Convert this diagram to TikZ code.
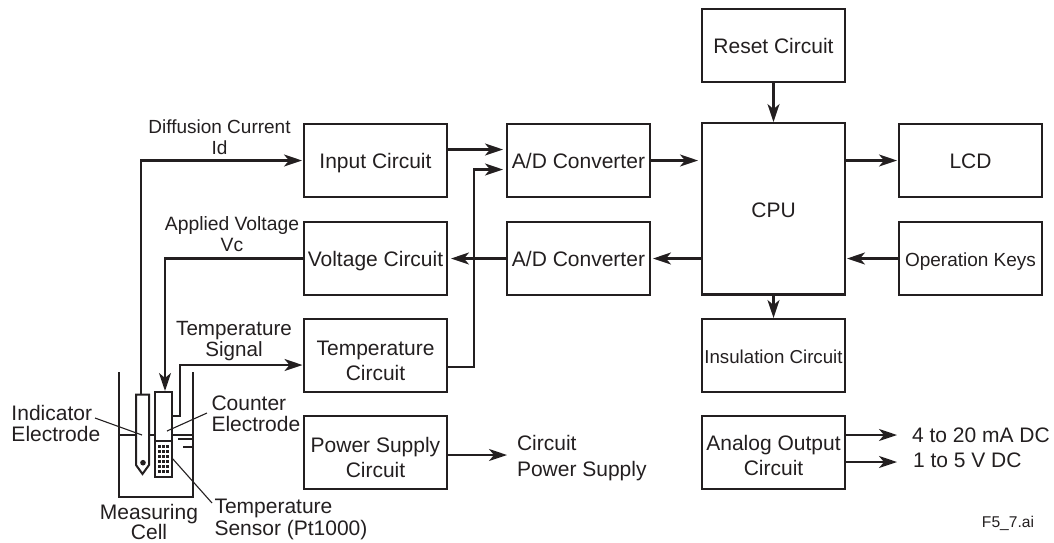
\documentclass[tikz,border=0pt]{standalone}
\usepackage{fontspec}
\setmainfont{Liberation Sans}
\usetikzlibrary{arrows.meta}
\definecolor{ink}{HTML}{231F20}
\newcommand{\fs}[1]{\fontsize{#1}{#1}\selectfont}
\newcommand{\tallA}{\rule{0pt}{26pt}}
\newcommand{\tallB}{\rule{0pt}{22pt}}
\tikzset{
  x=1pt,y=-1pt,
  every node/.style={text=ink,inner sep=0pt,outer sep=0pt,align=center},
  box/.style={draw=ink,line width=2.6pt,minimum width=143pt,minimum height=73pt,font=\fs{21}},
  oneline/.style={text height=16.5pt,text depth=0pt},
  wire/.style={draw=ink,line width=2.2pt},
  arrowwire/.style={wire,-{Stealth[length=18pt,width=12pt,inset=5pt]},shorten >=#1},
  arrowwire/.default=4pt,
  leader/.style={draw=ink,line width=1.1pt},
  cellline/.style={draw=ink,line width=2pt},
  lab/.style={font=\fs{21}},
}
\begin{document}
\begin{tikzpicture}
\useasboundingbox (0,0) rectangle (1054,542);
% boxes
\node[box,oneline] (input) at (375.5,160.5) {Input Circuit};
\node[box,oneline] (volt) at (375.5,258.5) {Voltage Circuit};
\node[box] (temp) at (375.5,355.5) {\tallA Temperature\\[4pt]Circuit};
\node[box] (power) at (375.5,452.5) {\tallA Power Supply\\[4pt]Circuit};
\node[box,oneline] (ad1) at (578.5,160.5) {A/D Converter};
\node[box,oneline] (ad2) at (578.5,258.5) {A/D Converter};
\node[box,oneline,minimum height=171.5pt] (cpu) at (773.5,208.8) {CPU};
\node[box,oneline] (reset) at (773.5,45.5) {Reset Circuit};
\node[box,oneline,font=\fs{18.7}] (ins) at (773.5,355.5) {Insulation Circuit};
\node[box] (analog) at (773.5,452.5) {\tallB Analog Output\\[4pt]Circuit};
\node[box,oneline] (lcd) at (970.5,160.5) {LCD};
\node[box,oneline,font=\fs{19}] (keys) at (970.5,258.5) {Operation Keys};
% named ends
\coordinate (in1) at (507,149.5);
\coordinate (in2) at (507,169.5);
\coordinate (inE) at (447,149.5);
\coordinate (tempE) at (447,366.7);
\coordinate (idtop) at (141,394);
\coordinate (vctop) at (165,392);
\coordinate (tempW) at (304,365);
\coordinate (sens) at (172,416);
\coordinate (psa) at (447,455);
\coordinate (psb) at (509,455);
\coordinate (ao1a) at (845,435);
\coordinate (ao1b) at (899,435);
\coordinate (ao2a) at (845,462);
\coordinate (ao2b) at (899,462);
% connectors
\draw[arrowwire=2pt] (idtop) |- (input.west);
\draw[arrowwire=1pt] (volt.west) -| (vctop);
\draw[arrowwire=1.5pt] (sens) -- (180,416) -- (180,365) -- (tempW);
\draw[arrowwire] (inE) -- (in1);
\draw[arrowwire] (tempE) -- (474,366.7) -- (474,169.5) -- (in2);
\draw[arrowwire] (ad2.west) -- (volt.east);
\draw[arrowwire] (ad1.east) -- (ad1.east -| cpu.west);
\draw[arrowwire=3pt] (cpu.west |- ad2.east) -- (ad2.east);
\draw[arrowwire=1pt] (reset.south) -- (cpu.north);
\draw[arrowwire=1pt] (cpu.south) -- (ins.north);
\draw[arrowwire=2pt] (cpu.east |- lcd.west) -- (lcd.west);
\draw[arrowwire=2pt] (keys.west) -- (keys.west -| cpu.east);
\draw[arrowwire=2pt] (psa) -- (psb);
\draw[arrowwire=2pt] (ao1a) -- (ao1b);
\draw[arrowwire=2pt] (ao2a) -- (ao2b);
% labels
\node[font=\fs{19},anchor=south] (l1) at (219.5,155) {Diffusion Current\\[2pt]Id};
\node[font=\fs{19.3},anchor=south] (l2) at (232,252) {Applied Voltage\\[1.7pt]Vc};
\node[font=\fs{20.6},anchor=south] (l3) at (234,360.5) {Temperature\\[0.4pt]Signal};
\node[lab,align=left,anchor=west] (l4) at (517,458.5) {Circuit\\[5pt]Power Supply};
\node[lab,anchor=west] (l5) at (912,435) {4 to 20 mA DC};
\node[lab,anchor=west] (l6) at (913,460) {1 to 5 V DC};
\node[font=\fs{15.6}] (fn) at (1008,523.5) {F5\_7.ai};
\node[lab,align=left,anchor=west] (l7) at (11.5,423) {Indicator\\Electrode};
\node[lab,align=left,anchor=west] (l8) at (211.5,414) {Counter\\Electrode};
\node[lab] (l9) at (149,521.7) {Measuring\\[-1pt]Cell};
\node[lab,align=left,anchor=west] (l10) at (214.5,519.5) {Temperature\\[1.7pt]Sensor (Pt1000)};
% cell
\draw[cellline] (118.5,372) -- (118.5,497) -- (192.5,497) -- (192.5,372);
\draw[cellline,line width=1.8pt] (118.5,435) -- (136,435) (149,435) -- (155,435) (172,435) -- (192.5,435);
\draw[cellline,line width=2pt] (178,439) -- (192.5,439) (183,447) -- (192.5,447);
\draw[cellline,fill=white,line join=miter] (136,394.5) -- (149,394.5) -- (149,465) -- (142.5,474) -- (136,465) -- cycle;
\fill[ink] (143,462.7) circle (2.8);
\draw[cellline,fill=white] (155,392) rectangle (172,477);
\draw[cellline] (155,441) -- (172,441);
\foreach \yy in {446,451,...,472} \foreach \xx in {159.2,163.4,167.6}
  \fill[ink] (\xx-1.4,\yy-1.5) rectangle +(2.8,3);
% leaders
\draw[leader] (95,418) -- (142,435);
\draw[leader] (207,413) -- (167,431);
\draw[leader] (212,503) -- (172,458);
\end{tikzpicture}
\end{document}
